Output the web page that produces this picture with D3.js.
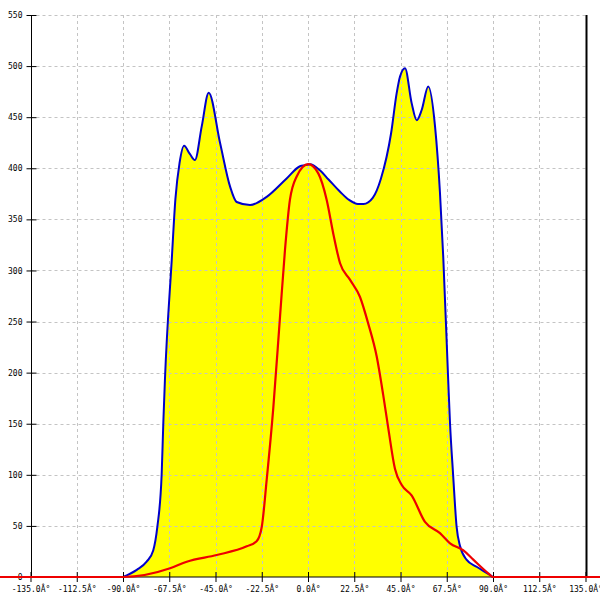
<!DOCTYPE html>
<html>
<head>
<meta charset="utf-8">
<script src="https://cdn.jsdelivr.net/npm/d3@7"></script>
<style>
  html, body { margin: 0; padding: 0; background: #fff; }
  svg { display: block; }
  text { font-family: "DejaVu Sans Mono", monospace; font-size: 8px; fill: #000; }
</style>
</head>
<body>
<svg id="chart" width="600" height="600"></svg>
<script>
// ---- data (angles in degrees) ----
const xTickValues = [-135, -112.5, -90, -67.5, -45, -22.5, 0, 22.5, 45, 67.5, 90, 112.5, 135];
const yTickValues = [0, 50, 100, 150, 200, 250, 300, 350, 400, 450, 500, 550];

const blueAngles = [-90, -83.3, -78.5, -75.3, -73.3, -71.2, -70.4, -69.6, -66.3, -64.5, -62.5, -60.3, -57.5, -55.0, -51.7, -48.3, -42.8, -37.9, -34.7, -28.2, -20.1, -10.4, -3.9, -1.5, 1.0, 5.8, 10.0, 15.6, 20.0, 24.3, 27.0, 31.5, 35.5, 40.4, 43.1, 44.8, 47.2, 50.4, 52.9, 55.3, 58.5, 61.8, 64.2, 65.8, 68.2, 69.1, 70.6, 72.3, 74.0, 77.1, 82.0, 88.5, 90];
const blueValues = [0, 7, 15, 26, 49, 100, 150, 193, 310, 370, 405, 422, 414, 408, 441, 474, 425, 382, 367, 364, 372, 390, 402, 403, 404, 398, 389, 377, 369, 365, 365, 371, 390, 434, 473, 490, 498, 464, 447, 457, 480, 441, 376, 313, 193, 150, 100, 49, 30, 17, 10, 2, 0];

const redAngles = [-150, -90, -67.1, -59.0, -44.4, -29.8, -25.0, -22.5, -20.1, -16.9, -13.6, -11.2, -8.8, -5.5, 0.1, 5.0, 9.1, 12.3, 15.6, 20.4, 25.3, 29.3, 33.4, 36.6, 39.1, 42.3, 45.6, 50.4, 56.9, 64.2, 69.1, 75.6, 80.4, 87.7, 90, 150];
const redValues = [0, 0, 8.5, 15, 21.5, 30, 35, 49, 95, 165, 255, 320, 369, 392, 404, 395, 369, 336, 307, 291, 274, 248, 216, 178, 145, 106, 90, 80, 54, 43, 33, 26, 17, 3.6, 0, 0];

// ---- chart ----
const svg = d3.select("#chart");
const x = d3.scaleLinear().domain([-135, 135]).range([30.5, 585.5]);
const y = d3.scaleLinear().domain([0, 550]).range([577, 15]);

const blue = blueAngles.map((a, i) => ({a, v: blueValues[i]}));
const red = redAngles.map((a, i) => ({a, v: redValues[i]}));

// yellow area
svg.append("path")
  .datum(blue)
  .attr("fill", "#ffff00")
  .attr("d", d3.area().x(d => x(d.a)).y0(y(0)).y1(d => y(d.v)).curve(d3.curveMonotoneX));

// grid
const grid = svg.append("g").attr("stroke", "#c4c4c4").attr("stroke-dasharray", "3,3").attr("stroke-width", 1);
grid.selectAll("line.h").data(yTickValues.filter(v => v > 0)).join("line")
  .attr("x1", x(-135)).attr("x2", x(135))
  .attr("y1", d => Math.round(y(d)) + 0.5).attr("y2", d => Math.round(y(d)) + 0.5);
grid.selectAll("line.v").data(xTickValues).join("line")
  .attr("x1", d => Math.round(x(d)) + 0.5).attr("x2", d => Math.round(x(d)) + 0.5)
  .attr("y1", y(550)).attr("y2", y(0));

// blue line
svg.append("path")
  .datum(blue)
  .attr("fill", "none")
  .attr("stroke", "#0000cc")
  .attr("stroke-width", 2)
  .attr("d", d3.line().x(d => x(d.a)).y(d => y(d.v)).curve(d3.curveMonotoneX));

// axes
const yAxis = svg.append("g")
  .attr("transform", `translate(${Math.round(x(-135)) + 0.5},0)`)
  .call(d3.axisLeft(y).tickValues(yTickValues).tickSize(5).tickFormat(d3.format("d")));
yAxis.selectAll(".tick line").attr("x1", -5).attr("x2", 5);
yAxis.select(".domain").attr("d", `M0,${y(550)}V${y(0)}`);
yAxis.selectAll("text").attr("x", -9);

const xAxis = svg.append("g")
  .attr("transform", `translate(0,${y(0)})`)
  .call(d3.axisBottom(x).tickValues(xTickValues).tickSize(5).tickFormat(d => d.toFixed(1) + "Â°"));
xAxis.selectAll(".tick line").attr("y1", -5).attr("y2", 5);
xAxis.select(".domain").attr("d", `M${x(-135)},0H${x(135)}`);
xAxis.selectAll("text").attr("y", 9);

// right border
svg.append("line")
  .attr("x1", Math.round(x(135)) + 0.5).attr("x2", Math.round(x(135)) + 0.5)
  .attr("y1", y(550)).attr("y2", y(0))
  .attr("stroke", "#000").attr("stroke-width", 2);

// red line (drawn last, over everything)
svg.append("path")
  .datum(red)
  .attr("fill", "none")
  .attr("stroke", "#ee0000")
  .attr("stroke-width", 2.2)
  .attr("d", d3.line().x(d => x(d.a)).y(d => y(d.v)).curve(d3.curveMonotoneX));
</script>
</body>
</html>
